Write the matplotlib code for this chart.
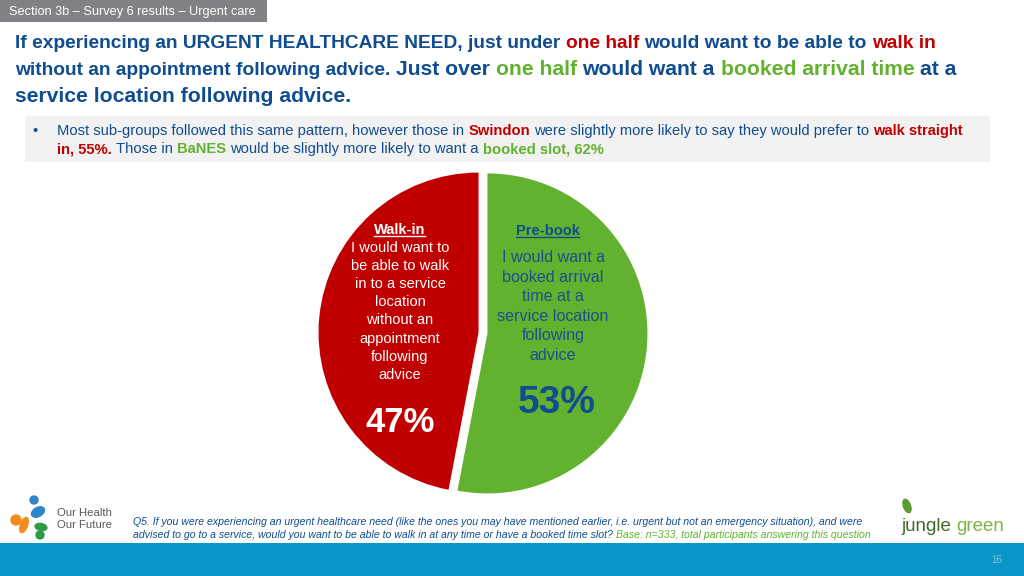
import matplotlib
matplotlib.use("Agg")
import matplotlib.pyplot as plt
from matplotlib.patches import Rectangle, Circle, Ellipse
from matplotlib import font_manager

# data
labels = ["Pre-book", "Walk-in"]
shares = [53, 47]
slice_colors = ["#62B22F", "#C00000"]

walkin_text = ["I would want to", "be able to walk", "in to a service", "location",
               "without an", "appointment", "following", "advice"]
prebook_text = ["I would want a", "booked arrival", "time at a", "service location",
                "following", "advice"]

BLUE = "#0F4C90"
RED = "#C00000"
GREEN = "#62B22F"

names = {f.name for f in font_manager.fontManager.ttflist}
NARROW = "Liberation Sans Narrow" if "Liberation Sans Narrow" in names else "Liberation Sans"
plt.rcParams["font.family"] = ["Liberation Sans", "DejaVu Sans"]

fig = plt.figure(figsize=(10.24, 5.76), dpi=100)

# pie first, overlay axes on top of it
R_PX = 160
cx, cy = 483, 333
half = 1.1 * R_PX
ax = fig.add_axes([(cx - half) / 1024, 1 - (cy + half) / 576, 2 * half / 1024, 2 * half / 576])
ax.pie(shares, colors=slice_colors, startangle=90, counterclock=False,
       explode=[0.028, 0.028], radius=1, wedgeprops=dict(linewidth=0))
ax.set_xlim(-1.1, 1.1)
ax.set_ylim(-1.1, 1.1)
ax.set_aspect("equal")
ax.axis("off")

bg = fig.add_axes([0, 0, 1, 1])
bg.set_xlim(0, 1024)
bg.set_ylim(576, 0)
bg.axis("off")
bg.set_zorder(5)
renderer = fig.canvas.get_renderer()


def text_w(s, **kw):
    t = bg.text(0, 0, s, **kw)
    w = t.get_window_extent(renderer).width
    t.remove()
    return w


def rich_line(x, y, parts, family="Liberation Sans", style="normal"):
    # parts: (text, color, size, weight); a space follows each part
    for s, c, size, w in parts:
        kw = dict(fontsize=size, fontweight=w, family=family, style=style)
        bg.text(x, y, s, color=c, va="baseline", ha="left", **kw)
        x += text_w(s + " ", **kw)
    return x


# header tab
bg.add_patch(Rectangle((0, 0), 267, 22, color="#808285", lw=0))
bg.text(9, 11.5, "Section 3b \u2013 Survey 6 results \u2013 Urgent care", color="white",
        fontsize=9.2, va="center", ha="left")

# title
s1, s2 = 13.8, 15.2
B = "bold"
rich_line(15, 48, [("If experiencing an URGENT HEALTHCARE NEED, just under", BLUE, s1, B),
                   ("one half", RED, s1, B),
                   ("would want to be able to", BLUE, s1, B),
                   ("walk in", RED, s1, B)])
rich_line(15, 75, [("without an appointment following advice.", BLUE, s1, B),
                   ("Just over", BLUE, s2, B),
                   ("one half", GREEN, s2, B),
                   ("would want a", BLUE, s2, B),
                   ("booked arrival time", GREEN, s2, B),
                   ("at a", BLUE, s2, B)])
rich_line(15, 102, [("service location following advice.", BLUE, s2, B)])

# bullet box
bg.add_patch(Rectangle((25, 116), 965, 46, color="#F2F2F2", lw=0))
bs = 10.6
N = "normal"
bg.text(32, 135, "\u2022", color=BLUE, fontsize=bs, va="baseline", family=NARROW)
rich_line(57, 135, [("Most sub-groups followed this same pattern, however those in", BLUE, bs, N),
                    ("Swindon", RED, bs, B),
                    ("were slightly more likely to say they would prefer to", BLUE, bs, N),
                    ("walk straight", RED, bs, B)], family=NARROW)
rich_line(57, 153, [("in, 55%.", RED, bs, B),
                    ("Those in", BLUE, bs, N),
                    ("BaNES", GREEN, bs, B),
                    ("would be slightly more likely to want a", BLUE, bs, N),
                    ("booked slot, 62%", GREEN, bs, B)], family=NARROW)


def underlined(x, y, s, color, size):
    t = bg.text(x, y, s, color=color, fontsize=size, fontweight="bold",
                ha="center", va="baseline")
    w = text_w(s, fontsize=size, fontweight="bold")
    bg.plot([x - w / 2, x + w / 2 - 1], [y + 2, y + 2], color=color, lw=1)


underlined(400, 234, labels[1], "white", 10.5)
for i, line in enumerate(walkin_text):
    bg.text(400, 252 + i * 18.1, line, color="white", fontsize=10.5, ha="center", va="baseline")
bg.text(400, 432, f"{shares[1]}%", color="white", fontsize=25, fontweight="bold",
        ha="center", va="baseline")

underlined(548, 235, labels[0], BLUE, 10.5)
for i, line in enumerate(prebook_text):
    bg.text(553, 262 + i * 19.6, line, color="#1F4E8C", fontsize=11.6, ha="center", va="baseline")
bg.text(557, 413, f"{shares[0]}%", color=BLUE, fontsize=28, fontweight="bold",
        ha="center", va="baseline")

# footer note
fs = 7.6
it = "italic"
bg.text(133, 525, "Q5. If you were experiencing an urgent healthcare need (like the ones you may have "
        "mentioned earlier, i.e. urgent but not an emergency situation), and were",
        color=BLUE, fontsize=fs, style=it, family=NARROW, va="baseline")
rich_line(133, 538, [("advised to go to a service, would you want to be able to walk in at any time "
                      "or have a booked time slot?", BLUE, fs, N),
                     ("Base: n=333, total participants answering this question", GREEN, fs, N)],
          family=NARROW, style=it)

# left logo
bg.add_patch(Circle((34, 500), 4, color="#2E86C8"))
bg.add_patch(Ellipse((38, 512), 14, 9, angle=-30, color="#2E86C8"))
bg.add_patch(Circle((16, 520), 5, color="#F28C1E"))
bg.add_patch(Ellipse((24, 525), 7, 16, angle=20, color="#F28C1E"))
bg.add_patch(Ellipse((41, 527), 12, 7, angle=10, color="#2E9B47"))
bg.add_patch(Circle((40, 535), 4, color="#2E9B47"))
bg.text(57, 516, "Our Health", color="#595959", fontsize=8.2, family=NARROW, va="baseline")
bg.text(57, 528, "Our Future", color="#595959", fontsize=8.2, family=NARROW, va="baseline")

# right logo
bg.add_patch(Ellipse((907, 506), 7, 14, angle=-20, color="#5E9B32"))
rich_line(901, 531, [("jungle", "#3F6B2A", 13.5, N), ("green", "#7FB241", 13.5, N)],
          family=NARROW)

# bottom bar
bg.add_patch(Rectangle((0, 543), 1024, 33, color="#0A97C8", lw=0))
bg.text(997, 560, "16", color="#7CC8E4", fontsize=7, ha="center", va="center")

fig.savefig("out.png", dpi=100)
